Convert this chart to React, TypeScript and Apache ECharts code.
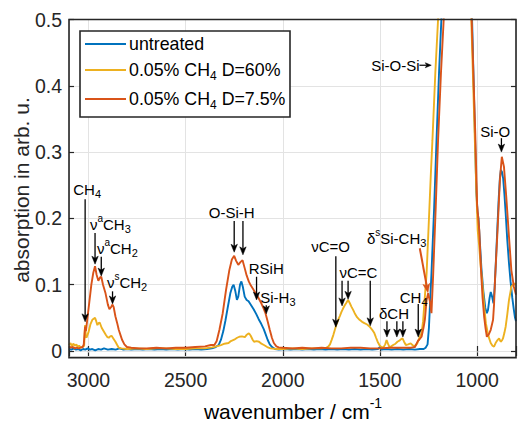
import React, { useEffect, useRef } from "react";
import * as echarts from "echarts";

const FONT = '"Liberation Sans", Arial, Helvetica, sans-serif';
const INK = "#262626";
const GRID_COLOR = "#e3e3e3";

const legendTexts = [
  "{n|untreated}",
  "{n|0.05% CH}{sub|4}{n|\u00A0D=60%}",
  "{n|0.05% CH}{sub|4}{n|\u00A0D=7.5%}",
];
const seriesNames = ["untreated", "0.05% CH4 D=60%", "0.05% CH4 D=7.5%"];
const seriesColors = ["#0072BD", "#EDB120", "#D95319"];

const xTicks = [3000, 2500, 2000, 1500, 1000];
const yTicks = [0, 0.1, 0.2, 0.3, 0.4, 0.5];

// [wavenumber, absorption]
const untreated: [number, number][] = [
  [3100, 0.003], [3088, 0.002], [3076, 0.004], [3064, 0.002], [3052, 0.003], [3040, 0.001], [3028, 0.003],
  [3016, 0.002], [3004, 0.004], [2992, 0.002], [2980, 0.003], [2965, 0.001], [2950, 0.003], [2935, 0.002],
  [2920, 0.004], [2900, 0.002], [2880, 0.003], [2860, 0.002], [2840, 0.004], [2820, 0.002], [2800, 0.003],
  [2780, 0.002], [2750, 0.003], [2720, 0.002], [2690, 0.003], [2660, 0.002], [2630, 0.003], [2600, 0.002],
  [2570, 0.003], [2540, 0.002], [2510, 0.003], [2480, 0.002], [2450, 0.003], [2420, 0.002], [2390, 0.003],
  [2365, 0.004], [2345, 0.006], [2330, 0.009], [2318, 0.017], [2306, 0.03], [2295, 0.046], [2283, 0.066],
  [2270, 0.087], [2260, 0.097], [2253, 0.1], [2244, 0.09], [2236, 0.077], [2229, 0.082], [2220, 0.1],
  [2213, 0.105], [2205, 0.096], [2196, 0.082], [2186, 0.077], [2176, 0.075], [2163, 0.069], [2150, 0.063],
  [2137, 0.056], [2124, 0.048], [2111, 0.041], [2098, 0.033], [2088, 0.025], [2078, 0.017], [2067, 0.01],
  [2055, 0.006], [2040, 0.003], [2020, 0.002], [1990, 0.003], [1960, 0.002], [1930, 0.003], [1900, 0.002],
  [1870, 0.003], [1840, 0.002], [1810, 0.003], [1780, 0.002], [1750, 0.003], [1720, 0.002], [1690, 0.003],
  [1660, 0.002], [1630, 0.003], [1600, 0.002], [1570, 0.003], [1540, 0.002], [1510, 0.003], [1500, 0.006],
  [1492, 0.002], [1470, 0.003], [1440, 0.002], [1410, 0.003], [1380, 0.002], [1350, 0.003], [1320, 0.002],
  [1295, 0.003], [1275, 0.003], [1265, 0.005], [1255, 0.01], [1248, 0.035], [1243, 0.067], [1235, 0.117],
  [1221, 0.217], [1209, 0.318], [1196, 0.42], [1184, 0.5], [1170, 0.62], [1140, 0.8], [1100, 0.9],
  [1060, 0.75], [1040, 0.6], [1026, 0.5], [1014, 0.36], [1004, 0.24], [998, 0.21], [993, 0.2], [987, 0.17],
  [978, 0.125], [968, 0.09], [958, 0.065], [950, 0.057], [944, 0.062], [936, 0.08], [930, 0.089],
  [923, 0.082], [916, 0.072], [910, 0.095], [904, 0.132], [896, 0.185], [889, 0.23], [883, 0.26],
  [878, 0.273], [872, 0.27], [866, 0.26], [860, 0.238], [853, 0.207], [845, 0.168], [836, 0.132],
  [828, 0.105], [819, 0.08], [811, 0.062], [805, 0.05], [800, 0.045],
];

const ch4D60: [number, number][] = [
  [3100, 0.009], [3092, 0.012], [3085, 0.007], [3078, 0.011], [3070, 0.008], [3062, 0.01], [3055, 0.006],
  [3048, 0.008], [3040, 0.005], [3030, 0.006], [3022, 0.008], [3019, 0.03], [3017, 0.039], [3014, 0.025],
  [3010, 0.02], [3000, 0.028], [2990, 0.04], [2980, 0.047], [2966, 0.05], [2960, 0.045], [2954, 0.039],
  [2948, 0.042], [2942, 0.043], [2932, 0.035], [2920, 0.029], [2910, 0.024], [2903, 0.021], [2895, 0.02],
  [2888, 0.022], [2881, 0.023], [2872, 0.019], [2861, 0.014], [2852, 0.009], [2844, 0.005], [2830, 0.004],
  [2800, 0.003], [2750, 0.004], [2700, 0.003], [2650, 0.004], [2600, 0.004], [2550, 0.003], [2500, 0.003],
  [2450, 0.004], [2400, 0.004], [2364, 0.0055], [2340, 0.007], [2318, 0.009], [2300, 0.011], [2279, 0.012],
  [2267, 0.015], [2250, 0.017], [2235, 0.02], [2224, 0.0215], [2210, 0.022], [2195, 0.021], [2187, 0.024],
  [2178, 0.026], [2173, 0.0265], [2165, 0.023], [2155, 0.017], [2148, 0.014], [2135, 0.015], [2122, 0.014],
  [2110, 0.011], [2097, 0.009], [2080, 0.006], [2063, 0.004], [2030, 0.003], [2000, 0.003], [1950, 0.004],
  [1900, 0.003], [1850, 0.004], [1800, 0.004], [1775, 0.005], [1766, 0.0065], [1757, 0.01], [1749, 0.0165],
  [1740, 0.024], [1732, 0.032], [1724, 0.04], [1715, 0.047], [1706, 0.053], [1698, 0.059], [1690, 0.064],
  [1681, 0.069], [1672, 0.073], [1664, 0.077], [1655, 0.072], [1647, 0.067], [1638, 0.062], [1630, 0.057],
  [1618, 0.051], [1605, 0.047], [1592, 0.044], [1580, 0.042], [1566, 0.04], [1554, 0.037], [1540, 0.032],
  [1529, 0.027], [1520, 0.02], [1512, 0.014], [1503, 0.009], [1495, 0.0065], [1483, 0.005], [1473, 0.01],
  [1466, 0.0165], [1459, 0.011], [1452, 0.0065], [1442, 0.007], [1432, 0.009], [1420, 0.011], [1410, 0.014],
  [1398, 0.016], [1390, 0.018], [1384, 0.019], [1376, 0.014], [1367, 0.009], [1355, 0.01], [1342, 0.0115],
  [1333, 0.009], [1325, 0.0075], [1315, 0.009], [1308, 0.0115], [1302, 0.0165], [1294, 0.022], [1286, 0.027],
  [1278, 0.045], [1269, 0.082], [1260, 0.117], [1249, 0.192], [1238, 0.268], [1230, 0.318], [1215, 0.42],
  [1201, 0.5], [1190, 0.6], [1150, 0.85], [1100, 0.9], [1060, 0.75], [1045, 0.62], [1030, 0.5], [1014, 0.34],
  [1005, 0.25], [997, 0.182], [990, 0.16], [982, 0.13], [972, 0.097], [963, 0.065], [955, 0.042],
  [946, 0.028], [938, 0.019], [930, 0.012], [921, 0.008], [913, 0.0065], [905, 0.012], [895, 0.0165],
  [887, 0.019], [879, 0.014], [872, 0.016], [867, 0.019], [860, 0.027], [853, 0.037], [845, 0.055],
  [836, 0.077], [828, 0.09], [824, 0.097], [815, 0.1], [807, 0.102], [800, 0.1],
];

const ch4D75: [number, number][] = [
  [3100, 0.007], [3090, 0.005], [3080, 0.006], [3070, 0.004], [3060, 0.005], [3050, 0.004], [3040, 0.005],
  [3030, 0.006], [3024, 0.01], [3020, 0.025], [3017, 0.037], [3013, 0.03], [3005, 0.05], [2995, 0.075],
  [2985, 0.1], [2975, 0.118], [2966, 0.128], [2958, 0.115], [2949, 0.106], [2940, 0.111], [2934, 0.112],
  [2925, 0.1], [2912, 0.087], [2900, 0.07], [2892, 0.063], [2884, 0.066], [2876, 0.07], [2870, 0.066],
  [2861, 0.052], [2852, 0.042], [2844, 0.032], [2835, 0.024], [2827, 0.017], [2815, 0.01], [2802, 0.006],
  [2780, 0.005], [2740, 0.004], [2700, 0.004], [2650, 0.005], [2600, 0.004], [2550, 0.005], [2500, 0.005],
  [2450, 0.006], [2400, 0.007], [2370, 0.009], [2352, 0.009], [2340, 0.015], [2326, 0.032], [2309, 0.057],
  [2292, 0.092], [2275, 0.122], [2262, 0.138], [2250, 0.1435], [2240, 0.136], [2229, 0.13], [2218, 0.134],
  [2207, 0.137], [2196, 0.125], [2186, 0.114], [2175, 0.105], [2165, 0.099], [2152, 0.093], [2140, 0.087],
  [2127, 0.081], [2114, 0.074], [2100, 0.065], [2089, 0.057], [2078, 0.045], [2067, 0.032], [2056, 0.02],
  [2046, 0.012], [2033, 0.007], [2021, 0.0055], [2000, 0.005], [1950, 0.004], [1900, 0.005], [1850, 0.004],
  [1800, 0.005], [1750, 0.004], [1700, 0.004], [1650, 0.005], [1600, 0.005], [1550, 0.004], [1500, 0.004],
  [1450, 0.005], [1400, 0.005], [1340, 0.005], [1320, 0.006], [1311, 0.0115], [1305, 0.015], [1298, 0.017],
  [1286, 0.0215], [1276, 0.035], [1269, 0.047], [1260, 0.077], [1252, 0.087], [1243, 0.075], [1235, 0.057],
  [1226, 0.117], [1213, 0.217], [1201, 0.318], [1186, 0.42], [1172, 0.5], [1160, 0.62], [1120, 0.85],
  [1090, 0.9], [1060, 0.78], [1045, 0.62], [1028, 0.5], [1010, 0.333], [1000, 0.22], [994, 0.2],
  [989, 0.182], [980, 0.122], [972, 0.08], [964, 0.052], [957, 0.035], [950, 0.0215], [940, 0.025],
  [930, 0.032], [918, 0.047], [913, 0.07], [908, 0.107], [895, 0.182], [883, 0.257], [873, 0.293],
  [862, 0.278], [850, 0.232], [836, 0.172], [824, 0.122], [811, 0.097], [800, 0.085],
];

const seriesData = [untreated, ch4D60, ch4D75];

// annotation labels: [rich text, wavenumber, absorption, align]
const labels: [string, number, number, string][] = [
  ["{n|CH}{sub|4}", 3078, 0.243, "left"],
  ["{n|ν}{sup|a}{n|CH}{sub|3}", 2992, 0.191, "left"],
  ["{n|ν}{sup|a}{n|CH}{sub|2}", 2956, 0.155, "left"],
  ["{n|ν}{sup|s}{n|CH}{sub|2}", 2905, 0.104, "left"],
  ["{n|O-Si-H}", 2263, 0.209, "center"],
  ["{n|RSiH}", 2175, 0.125, "left"],
  ["{n|Si-H}{sub|3}", 2116, 0.081, "left"],
  ["{n|νC=O}", 1854, 0.157, "left"],
  ["{n|νC=C}", 1708, 0.119, "left"],
  ["{n|δCH}", 1505, 0.057, "left"],
  ["{n|CH}{sub|4}", 1398, 0.081, "left"],
  ["{n|δ}{sup|s}{n|Si-CH}{sub|3}", 1567, 0.17, "left"],
  ["{n|Si-O-Si}", 1296, 0.431, "right"],
  ["{n|Si-O}", 984, 0.331, "left"],
];

// vertical black arrows: [wavenumber, from, to]
const arrows: [number, number, number][] = [
  [3017, 0.229, 0.044],
  [2966, 0.178, 0.131],
  [2934, 0.142, 0.113],
  [2876, 0.09, 0.071],
  [2250, 0.196, 0.149],
  [2205, 0.196, 0.145],
  [2135, 0.112, 0.077],
  [2085, 0.069, 0.056],
  [1727, 0.143, 0.036],
  [1695, 0.106, 0.068],
  [1664, 0.106, 0.078],
  [1550, 0.106, 0.038],
  [1464, 0.045, 0.021],
  [1413, 0.045, 0.021],
  [1382, 0.045, 0.021],
  [1303, 0.071, 0.021],
  [875, 0.321, 0.3],
];
// slanted orange arrow δsSi-CH3: [wn1, a1, wn2, a2]
const siCH3Arrow = [1295, 0.155, 1253, 0.088];
// horizontal arrow Si-O-Si: [wn1, wn2, a]
const siOSiArrow = [1297, 1236, 0.431];

function rich(size: number) {
  const mk = (s: number, extra: any = {}) => ({
    fontSize: s,
    fontFamily: FONT,
    font: `${s}px ${FONT}`,
    fill: "#000",
    ...extra,
  });
  return {
    n: mk(size),
    sub: mk(Math.round(size * 0.7), { padding: [Math.round(size * 0.62), 0, 0, 0] }),
    sup: mk(Math.round(size * 0.66), { padding: [0, 0, Math.round(size * 0.8), 0] }),
  };
}

function arrowEls(x1: number, y1: number, x2: number, y2: number, color: string, width: number, hl = 8, hw = 3.2) {
  const dx = x2 - x1;
  const dy = y2 - y1;
  const L = Math.hypot(dx, dy) || 1;
  const ux = dx / L;
  const uy = dy / L;
  const px = -uy;
  const py = ux;
  const bx = x2 - ux * hl;
  const by = y2 - uy * hl;
  const mx = x2 - ux * hl * 0.75;
  const my = y2 - uy * hl * 0.75;
  return [
    {
      type: "line",
      z: 100,
      shape: { x1, y1, x2: mx, y2: my },
      style: { stroke: color, lineWidth: width },
    },
    {
      type: "polygon",
      z: 100,
      shape: { points: [[x2, y2], [bx + px * hw, by + py * hw], [mx, my], [bx - px * hw, by - py * hw]] },
      style: { fill: color, stroke: color, lineWidth: 0.5 },
    },
  ];
}

export default function App() {
  const ref = useRef<HTMLDivElement>(null);
  useEffect(() => {
    if (!ref.current) return;
    const chart = echarts.init(ref.current, null, { renderer: "svg" });
    const tick = { show: true, inside: true, length: 5, lineStyle: { color: INK, width: 1.2 } };
    const axisFont = { fontFamily: FONT, fontSize: 19.5, color: INK };
    chart.setOption({
      animation: false,
      backgroundColor: "#ffffff",
      grid: { left: 69, top: 19.5, width: 451, height: 331.5, containLabel: false },
      xAxis: [
        {
          type: "value", min: 800, max: 3100, inverse: true, position: "bottom", offset: 6.6, splitNumber: 5,
          axisLine: { show: false }, axisTick: tick,
          axisLabel: { ...axisFont, margin: 12, formatter: (v: number) => (xTicks.includes(v) ? String(v) : "") },
          splitLine: { show: true, lineStyle: { color: GRID_COLOR, width: 1 } },
        },
        {
          type: "value", min: 800, max: 3100, inverse: true, position: "top", splitNumber: 5,
          axisLine: { show: false }, axisTick: tick, axisLabel: { show: false }, splitLine: { show: false },
        },
      ],
      yAxis: [
        {
          type: "value", min: 0, max: 0.5, interval: 0.1, position: "left",
          axisLine: { show: false }, axisTick: tick,
          axisLabel: {
            ...axisFont, margin: 7,
            formatter: (v: number) => {
              const t = yTicks.find((k) => Math.abs(k - v) < 1e-9);
              return t === undefined ? "" : t === 0 ? "0" : t.toFixed(1);
            },
          },
          splitLine: { show: true, lineStyle: { color: GRID_COLOR, width: 1 } },
        },
        {
          type: "value", min: 0, max: 0.5, interval: 0.1, position: "right",
          axisLine: { show: false }, axisTick: tick, axisLabel: { show: false }, splitLine: { show: false },
        },
      ],
      series: seriesData.map((d, i) => ({
        name: seriesNames[i],
        type: "line",
        data: d,
        xAxisIndex: 0,
        yAxisIndex: 0,
        showSymbol: false,
        symbol: "none",
        clip: true,
        z: 2 + i,
        lineStyle: { color: seriesColors[i], width: 1.9 },
      })),
    });

    const P = (x: number, y: number) => chart.convertToPixel({ seriesIndex: 0 }, [x, y]) as number[];
    const els: any[] = [];

    // frame
    const tl = P(3100, 0.5);
    const br = P(800, 0);
    const frameBottom = br[1] + 6.6;
    // extend vertical grid lines down to the frame
    xTicks.forEach((v) => {
      const p = P(v, 0);
      els.push({
        type: "line", z: 1,
        shape: { x1: p[0], y1: p[1], x2: p[0], y2: frameBottom - 5 },
        style: { stroke: GRID_COLOR, lineWidth: 1 },
      });
    });
    els.push({
      type: "rect", z: 90,
      shape: { x: tl[0], y: tl[1], width: br[0] - tl[0], height: frameBottom - tl[1] },
      style: { fill: "none", stroke: INK, lineWidth: 1.6 },
    });

    // annotation texts
    labels.forEach(([t, x, y, align]) => {
      const p = P(x, y);
      els.push({
        type: "text", z: 100, x: p[0], y: p[1],
        style: { text: t, rich: rich(15), fontSize: 15, fontFamily: FONT, fill: "#000", align, verticalAlign: "middle" },
      });
    });
    arrows.forEach(([x, a, b]) => {
      const p1 = P(x, a);
      const p2 = P(x, b);
      els.push(...arrowEls(p1[0], p1[1], p2[0], p2[1], "#000", 1.3));
    });
    {
      const p1 = P(siCH3Arrow[0], siCH3Arrow[1]);
      const p2 = P(siCH3Arrow[2], siCH3Arrow[3]);
      els.push(...arrowEls(p1[0], p1[1], p2[0], p2[1], "#D95319", 2, 9, 3.5));
      const q1 = P(siOSiArrow[0], siOSiArrow[2]);
      const q2 = P(siOSiArrow[1], siOSiArrow[2]);
      els.push(...arrowEls(q1[0], q1[1], q2[0], q2[1], "#000", 1.2, 6, 2.5));
    }

    // legend
    els.push({
      type: "rect", z: 110,
      shape: { x: 80, y: 31, width: 210, height: 86 },
      style: { fill: "#ffffff", stroke: INK, lineWidth: 1.6 },
    });
    const legY = [44, 70, 99];
    legendTexts.forEach((t, i) => {
      els.push({
        type: "line", z: 111,
        shape: { x1: 85, y1: legY[i], x2: 126, y2: legY[i] },
        style: { stroke: seriesColors[i], lineWidth: 2 },
      });
      els.push({
        type: "text", z: 111, x: 129, y: legY[i],
        style: { text: t, rich: rich(17.8), fontSize: 17.8, fontFamily: FONT, fill: "#000", align: "left", verticalAlign: "middle" },
      });
    });

    // axis titles
    els.push({
      type: "text", z: 100, x: 293, y: 411,
      style: { text: "{n|wavenumber / cm}{sup|-1}", rich: rich(21), fontSize: 21, fontFamily: FONT, fill: INK, align: "center", verticalAlign: "middle" },
    });
    els.push({
      type: "text", z: 100, x: 21, y: 190, rotation: Math.PI / 2,
      style: { text: "absorption in arb. u.", fontSize: 21, fontFamily: FONT, fill: INK, align: "center", verticalAlign: "middle" },
    });

    chart.setOption({ graphic: els });
    return () => chart.dispose();
  }, []);
  return (
    <div
      ref={ref}
      style={{ position: "fixed", left: 0, top: 0, width: 519, height: 423, background: "#fff" }}
    />
  );
}
